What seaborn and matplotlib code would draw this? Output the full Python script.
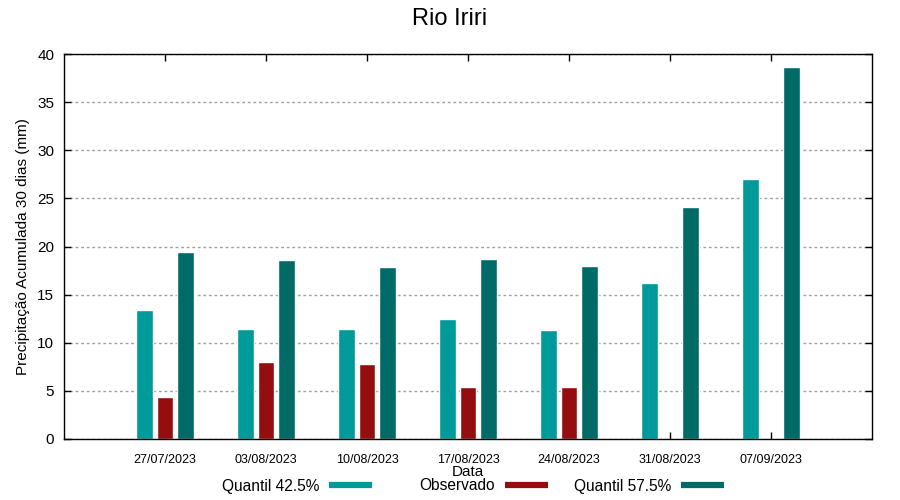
import matplotlib
matplotlib.use('Agg')
import matplotlib.pyplot as plt
from matplotlib.lines import Line2D
import numpy as np
import pandas as pd
import seaborn as sns

# Dados
datas = ['27/07/2023', '03/08/2023', '10/08/2023', '17/08/2023',
         '24/08/2023', '31/08/2023', '07/09/2023']
quantil_425 = [13.4, 11.4, 11.4, 12.5, 11.3, 16.2, 27.0]
observado = [4.4, 8.0, 7.8, 5.4, 5.4, np.nan, np.nan]
quantil_575 = [19.4, 18.6, 17.9, 18.7, 18.0, 24.1, 38.7]

series = ['Quantil 42.5%', 'Observado', 'Quantil 57.5%']
cores = ['#009a9a', '#940e0f', '#006a66']

df = pd.DataFrame({
    'Data': datas * 3,
    'serie': [series[0]] * 7 + [series[1]] * 7 + [series[2]] * 7,
    'valor': quantil_425 + observado + quantil_575,
})

sns.set_style('ticks', rc={'text.color': 'black', 'axes.labelcolor': 'black',
                           'xtick.color': 'black', 'ytick.color': 'black',
                           'axes.edgecolor': 'black'})
plt.rcParams['font.family'] = ['Liberation Sans', 'DejaVu Sans']

fig = plt.figure(figsize=(9, 5), dpi=100)
ax = fig.add_axes([64 / 900, 61 / 500, 808 / 900, 385 / 500])

sns.barplot(data=df, x='Data', y='valor', hue='serie', order=datas,
            hue_order=series, palette=cores, width=0.6, gap=0.17,
            saturation=1, dodge=True, ax=ax, legend=False)

ax.set_xlim(-1, 7)
ax.set_ylim(0, 40)
ax.set_yticks(range(0, 41, 5))
ax.yaxis.grid(True, linestyle=(0, (2, 2)), color='#a0a0a0', linewidth=1)
ax.set_axisbelow(True)
for s in ax.spines.values():
    s.set_visible(True)
    s.set_linewidth(1)
    s.set_color('black')

ax.tick_params(axis='both', direction='in', length=5, width=1,
               top=True, right=True)
ax.tick_params(axis='y', labelsize=11, pad=7)
ax.tick_params(axis='x', labelsize=9, pad=11)

ax.set_ylabel('Precipitação Acumulada 30 dias (mm)', fontsize=11)
ax.yaxis.set_label_coords(-0.042, 0.5)
ax.set_xlabel('Data', fontsize=11)
ax.xaxis.set_label_coords(0.5, -0.068)

fig.suptitle('Rio Iriri', fontsize=17, y=0.962, va='center')

# legenda estilo gnuplot: texto a esquerda da amostra, colunas de largura igual
fim_amostra = [372, 548, 724]
for nome, cor, xf in zip(series, cores, fim_amostra):
    h = Line2D([0], [0], color=cor, lw=4.5, solid_capstyle='butt')
    fig.legend([h], [nome], loc='center right', bbox_to_anchor=(xf / 900, 0.028),
               frameon=False, fontsize=11.2, markerfirst=False,
               handlelength=2.75, handletextpad=0.65,
               borderpad=0, borderaxespad=0)

fig.savefig('out.png', dpi=100)
